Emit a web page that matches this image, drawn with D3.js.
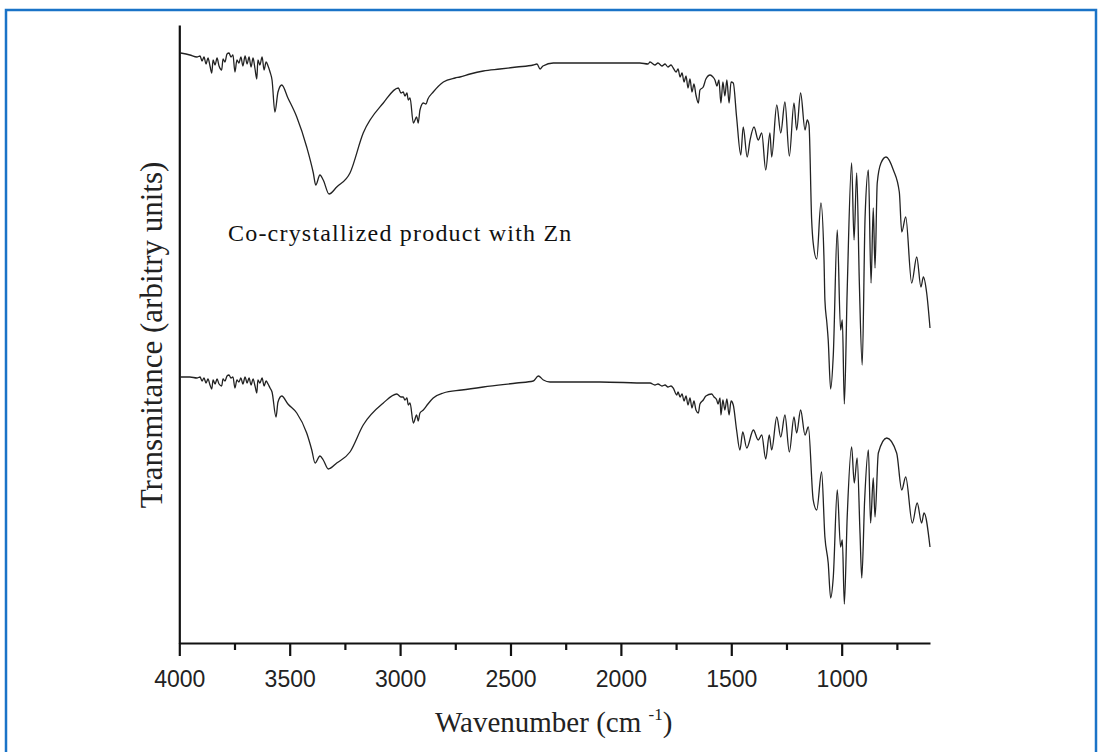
<!DOCTYPE html>
<html>
<head>
<meta charset="utf-8">
<script src="https://cdn.jsdelivr.net/npm/d3@7"></script>
<style>
body { margin: 0; background: #fff; }
</style>
</head>
<body>
<script>
var w = 1103;
var h = 752;

// wavenumber (cm-1), transmittance (arbitrary units)
var topSpectrum = [[3994,590],[3952,588],[3920,586],[3906,587],[3897,582],[3888,586],[3879,579],[3870,585],[3861,577],[3853,570],[3847,583],[3838,578],[3829,585],[3820,577],[3808,573],[3802,584],[3793,581],[3784,589],[3775,590],[3766,586],[3757,588],[3748,571],[3739,583],[3730,580],[3721,586],[3712,577],[3702,587],[3693,579],[3684,586],[3675,576],[3666,585],[3657,574],[3649,564],[3644,583],[3635,578],[3625,586],[3616,573],[3607,581],[3598,577],[3589,571],[3580,563],[3567,531],[3553,551],[3536,558],[3508,545],[3468,526],[3423,496],[3393,470],[3382,458],[3363,468],[3348,463],[3322,449],[3287,456],[3227,470],[3167,510],[3076,540],[3008,555],[2996,550],[2986,551],[2978,547],[2969,550],[2963,543],[2955,545],[2940,520],[2925,526],[2918,520],[2910,533],[2895,540],[2883,539],[2874,544],[2850,551],[2804,561],[2751,565],[2729,566],[2683,569],[2623,572],[2548,574],[2472,576],[2397,578],[2380,579],[2366,574],[2353,577],[2306,580],[2095,580],[1914,580],[1877,579],[1868,581],[1846,578],[1832,580],[1814,577],[1800,579],[1787,576],[1773,578],[1763,575],[1750,571],[1741,574],[1732,566],[1723,570],[1714,561],[1705,567],[1696,555],[1687,564],[1678,551],[1669,559],[1660,548],[1649,540],[1642,553],[1627,556],[1615,564],[1596,568],[1583,566],[1574,563],[1565,557],[1556,563],[1547,540],[1538,561],[1529,547],[1520,563],[1510,540],[1501,561],[1491,560],[1476,526],[1457,488],[1446,516],[1428,486],[1415,503],[1397,516],[1378,503],[1362,510],[1344,473],[1325,510],[1317,486],[1294,538],[1276,510],[1257,541],[1237,487],[1216,540],[1204,513],[1186,550],[1166,513],[1156,523],[1148,518],[1136,423],[1129,400],[1113,384],[1094,440],[1080,383],[1076,343],[1067,320],[1061,303],[1050,254],[1038,288],[1020,413],[1005,313],[997,323],[988,239],[975,353],[955,480],[944,403],[932,470],[920,360],[907,278],[894,426],[879,473],[867,360],[857,435],[849,375],[839,460],[822,480],[799,486],[766,473],[739,451],[728,411],[710,426],[683,360],[660,386],[641,356],[630,366],[615,350],[600,315]];

var bottomSpectrum = [[3994,266],[3952,266],[3920,265],[3906,266],[3897,262],[3888,265],[3879,260],[3870,264],[3861,258],[3853,254],[3847,263],[3838,259],[3829,264],[3820,259],[3808,257],[3802,264],[3793,262],[3784,267],[3775,268],[3766,265],[3757,266],[3748,255],[3739,263],[3730,261],[3721,265],[3712,259],[3702,266],[3693,260],[3684,265],[3675,258],[3666,264],[3657,257],[3649,250],[3644,263],[3635,260],[3625,265],[3616,257],[3607,262],[3598,259],[3589,255],[3580,251],[3562,226],[3553,241],[3536,247],[3508,239],[3468,230],[3423,210],[3400,193],[3385,180],[3363,187],[3348,183],[3325,174],[3287,180],[3227,191],[3167,218],[3076,240],[3015,249],[2996,246],[2986,246],[2978,243],[2969,245],[2963,238],[2955,240],[2940,220],[2925,228],[2918,222],[2910,230],[2895,233],[2874,239],[2850,245],[2804,250],[2721,253],[2623,256],[2472,260],[2397,262],[2374,267],[2351,263],[2321,261],[2095,261],[1883,260],[1868,260],[1846,258],[1832,259],[1814,257],[1800,258],[1787,256],[1773,257],[1763,255],[1747,248],[1741,251],[1732,246],[1723,249],[1714,242],[1705,247],[1696,238],[1687,245],[1678,235],[1669,242],[1660,233],[1649,230],[1642,239],[1627,243],[1615,247],[1589,249],[1578,246],[1566,243],[1560,239],[1551,245],[1547,228],[1538,243],[1529,233],[1520,244],[1510,228],[1501,242],[1491,238],[1476,213],[1461,193],[1448,211],[1430,195],[1400,213],[1378,203],[1362,208],[1344,184],[1328,208],[1317,193],[1294,226],[1276,206],[1257,228],[1237,191],[1216,226],[1204,210],[1186,233],[1166,208],[1151,216],[1129,143],[1113,133],[1091,171],[1076,106],[1061,80],[1050,45],[1038,66],[1020,153],[1005,96],[997,103],[988,39],[975,126],[955,196],[943,160],[930,185],[917,110],[909,65],[896,143],[879,193],[869,120],[857,165],[849,126],[834,190],[796,205],[751,190],[728,153],[710,166],[680,120],[658,140],[638,120],[627,130],[600,96]];

var majorTicks = [4000,3500,3000,2500,2000,1500,1000];
var minorTicks = [3750,3250,2750,2250,1750,1250,750];
var sampleLabel = "Co-crystallized product with Zn";

var svg = d3.select("body").append("svg")
    .attr("width", w)
    .attr("height", h)
    .style("background-color", "white");

// blue frame
svg.append("rect")
    .attr("x", 6)
    .attr("y", 10)
    .attr("width", 1090)
    .attr("height", 760)
    .attr("fill", "none")
    .attr("stroke", "#1a73c7")
    .attr("stroke-width", 2.5);

var x = d3.scaleLinear().domain([4000, 600]).range([179.3, 930]);
var y = d3.scaleLinear().domain([0, 618]).range([643, 25]);

var line = d3.line()
    .x(function(d){ return x(d[0]); })
    .y(function(d){ return y(d[1]); })
    .curve(d3.curveMonotoneX);

[topSpectrum, bottomSpectrum].forEach(function(s){
  svg.append("path")
    .datum(s)
    .attr("d", line)
    .attr("fill", "none")
    .attr("stroke", "#222")
    .attr("stroke-width", 1.3)
    .attr("stroke-linejoin", "round");
});

// minor ticks
var minorAxis = svg.append("g")
    .attr("transform", "translate(0,643)")
    .call(d3.axisBottom(x).tickValues(minorTicks).tickSize(7).tickSizeOuter(0).tickFormat(""));
minorAxis.select(".domain").remove();

var xAxis = svg.append("g")
    .attr("transform", "translate(0,643)")
    .call(d3.axisBottom(x).tickValues(majorTicks).tickSize(13).tickSizeOuter(0).tickPadding(15).tickFormat(d3.format("d")));

var yAxis = svg.append("g")
    .attr("transform", "translate(179.3,0)")
    .call(d3.axisLeft(y).tickValues([]).tickSizeOuter(0));

svg.selectAll(".domain, .tick line")
    .attr("stroke", "#111")
    .attr("stroke-width", 2.2);

xAxis.selectAll("text")
    .style("font-family", "Liberation Sans, Arial, sans-serif")
    .style("font-size", "23px")
    .attr("fill", "#222");

// axis titles
svg.append("text")
    .attr("transform", "translate(162,335)rotate(-90)")
    .attr("text-anchor", "middle")
    .style("font-family", "Liberation Serif, Times New Roman, serif")
    .style("font-size", "31px")
    .attr("fill", "#222")
    .text("Transmitance (arbitry units)");

var xt = svg.append("text")
    .attr("x", 435)
    .attr("y", 732)
    .style("font-family", "Liberation Serif, Times New Roman, serif")
    .style("font-size", "29px")
    .attr("fill", "#222");
xt.append("tspan").text("Wavenumber (cm ");
xt.append("tspan").attr("dy", -12).style("font-size", "17px").text("-1");
xt.append("tspan").attr("dy", 12).text(")");

svg.append("text")
    .attr("x", 228)
    .attr("y", 241)
    .style("font-family", "Liberation Serif, Times New Roman, serif")
    .style("font-size", "24px")
    .style("letter-spacing", "1.2px")
    .attr("fill", "#111")
    .text(sampleLabel);
</script>
</body>
</html>
